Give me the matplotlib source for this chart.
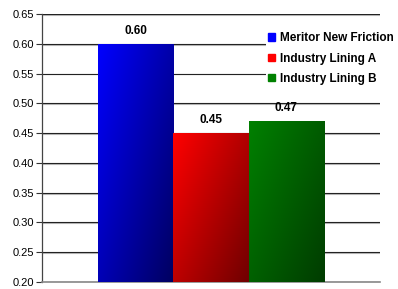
import numpy as np
import matplotlib
matplotlib.use('Agg')
import matplotlib.pyplot as plt
import matplotlib.patheffects as pe
from matplotlib.colors import to_rgb

plt.rcParams['font.family'] = ['Liberation Sans', 'DejaVu Sans']

series = ['Meritor New Friction', 'Industry Lining A', 'Industry Lining B']
values = [0.60, 0.45, 0.47]
light = ['#0000ff', '#ff0000', '#008000']
dark = ['#000060', '#700000', '#003c00']

fig = plt.figure(figsize=(3.98, 2.89), dpi=100)
ax = fig.add_axes([42 / 398, 1 - 282 / 289, 338 / 398, 268 / 289])

x = np.arange(len(values))
bars = ax.bar(x, [v - 0.20 for v in values], bottom=0.20, width=1.0,
              color=light, zorder=3, label=None)

# diagonal gradient inside each bar
gx, gy = np.meshgrid(np.linspace(0, 1, 60), np.linspace(0, 1, 200))
t = (gx * 0.7 + gy * 0.6) / 1.3
for b, c1, c2 in zip(bars, light, dark):
    c1 = np.array(to_rgb(c1))
    c2 = np.array(to_rgb(c2))
    img = c1[None, None, :] * (1 - t[..., None]) + c2[None, None, :] * t[..., None]
    x0, y0 = b.get_x(), b.get_y()
    im = ax.imshow(img, extent=[x0, x0 + b.get_width(), y0, y0 + b.get_height()],
                   origin='upper', aspect='auto', zorder=4, interpolation='bilinear')
    im.set_clip_path(b)

for xi, v in zip(x, values):
    ax.annotate('%.2f' % v, (xi, v), xytext=(0, 5), textcoords='offset points',
                ha='center', va='bottom', fontsize=8.5, fontweight='bold', zorder=6)

ax.set_xlim(-1.243, 3.243)
ax.set_ylim(0.20, 0.65)
ax.set_yticks(np.arange(0.20, 0.651, 0.05))
ax.set_yticklabels(['%.2f' % v for v in np.arange(0.20, 0.651, 0.05)], fontsize=8)
ax.set_xticks([])
ax.tick_params(axis='y', direction='out', length=4, width=0.8, color='#333333', pad=2)

ax.grid(axis='y', color='#222222', linewidth=0.8, zorder=1)
for gl in ax.get_ygridlines():
    gl.set_path_effects([pe.SimpleLineShadow(offset=(0, -0.6), shadow_color='#aaaaaa', alpha=0.8),
                         pe.Normal()])
ax.set_axisbelow(True)

for s in ['top', 'right']:
    ax.spines[s].set_visible(False)
ax.spines['left'].set_color('#444444')
ax.spines['left'].set_linewidth(0.9)
ax.spines['bottom'].set_color('#888888')
ax.spines['bottom'].set_linewidth(1.2)

handles = [plt.Rectangle((0, 0), 1, 1, color=c) for c in light]
leg = fig.legend(handles, series, loc='upper left', bbox_to_anchor=(266 / 398, 1 - 30 / 289),
                 frameon=True, fancybox=False, edgecolor='white', framealpha=1,
                 prop={'size': 8.5, 'weight': 'bold'}, handlelength=0.6, handleheight=0.6,
                 handletextpad=0.4, labelspacing=0.7, borderpad=0.2, borderaxespad=0)
leg.get_frame().set_linewidth(0)

fig.savefig('out.png', dpi=100)
